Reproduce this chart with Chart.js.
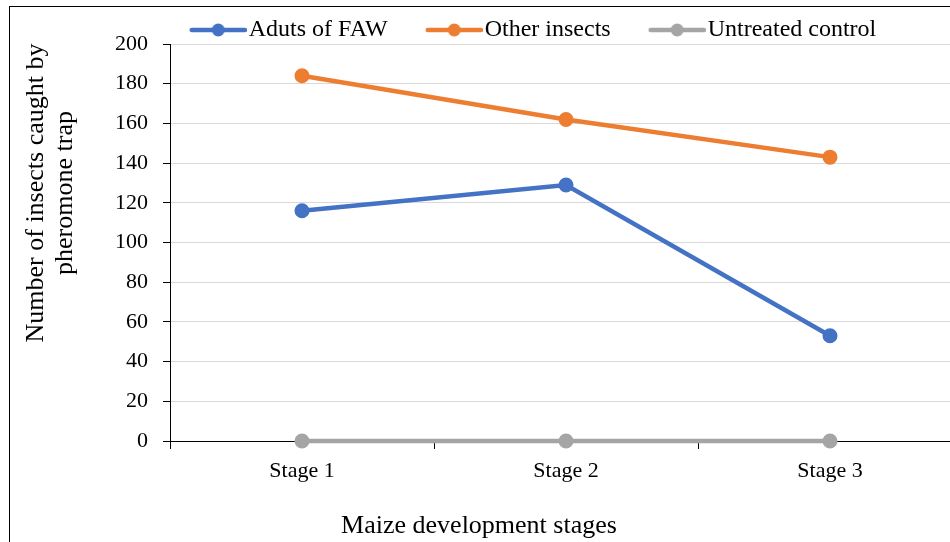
<!DOCTYPE html>
<html>
<head>
<meta charset="utf-8">
<script src="https://cdn.jsdelivr.net/npm/chart.js@4.4.1/dist/chart.umd.min.js"></script>
<style>
  body { margin: 0; width: 950px; height: 542px; overflow: hidden; background: #fff; position: relative; }
  .frame { position: absolute; left: 9px; top: 6px; width: 1000px; height: 600px; border-left: 1px solid #000; border-top: 1px solid #000; }
  #wrap { position: absolute; left: 10px; top: 7px; }
  .x-title { position: absolute; left: 279px; top: 512px; width: 400px; text-align: center; font: 26px/26px "Liberation Serif", serif; color: #000; }
  .y-title { position: absolute; left: -111px; top: 164px; width: 320px; text-align: center; font: 26px/29px "Liberation Serif", serif; color: #000; transform: rotate(-90deg); }
</style>
</head>
<body>
<div class="frame"></div>
<div id="wrap"><canvas id="chart" width="1012" height="535"></canvas></div>
<div class="y-title" id="ytitle"></div>
<div class="x-title">Maize development stages</div>
<script>
const stages = ['Stage 1', 'Stage 2', 'Stage 3'];
const adultsFaw = [116, 129, 53];
const otherInsects = [184, 162, 143];
const untreatedControl = [0, 0, 0];
const seriesNames = ['Aduts of FAW', 'Other insects', 'Untreated control'];
const seriesColors = ['#4472C4', '#ED7D31', '#A5A5A5'];
const yMin = 0, yMax = 200, yStep = 20;
const yTitle = ['Number of insects caught by', 'pheromone trap'];

const serif = 'Liberation Serif';

// y title sits above the plot centre in the reference, so it is laid out as html
const yt = document.getElementById('ytitle');
yTitle.forEach(line => {
    const d = document.createElement('div');
    d.textContent = line;
    yt.appendChild(d);
});

// legend swatch: line with a dot, padded on the left so it sits close to its text
const legendMark = (color) => {
    const c = document.createElement('canvas');
    c.width = 101;
    c.height = 16;
    const g = c.getContext('2d');
    g.strokeStyle = color;
    g.lineWidth = 4.5;
    g.lineCap = 'round';
    g.beginPath();
    g.moveTo(46, 8);
    g.lineTo(99, 8);
    g.stroke();
    g.fillStyle = color;
    g.beginPath();
    g.arc(72.5, 8, 6.5, 0, Math.PI * 2);
    g.fill();
    return c;
};
const marks = seriesColors.map(legendMark);

// legend box is taller than the reference leaves room for
const tightLegend = {
    id: 'tightLegend',
    beforeLayout(chart) {
        const legend = chart.legend;
        if (legend && !legend.tight) {
            const fit = legend.fit.bind(legend);
            legend.fit = () => { fit(); legend.height -= 8; };
            legend.tight = true;
        }
    }
};

const makeSet = (label, data, color) => ({
    label,
    data,
    borderColor: color,
    backgroundColor: color,
    borderWidth: 4.5,
    pointRadius: 6.5,
    pointBorderWidth: 2,
    pointBorderColor: color,
    pointBackgroundColor: color,
    tension: 0,
    clip: false
});

new Chart(document.getElementById('chart'), {
    type: 'line',
    data: {
        labels: stages,
        datasets: [
            makeSet(seriesNames[0], adultsFaw, seriesColors[0]),
            makeSet(seriesNames[1], otherInsects, seriesColors[1]),
            makeSet(seriesNames[2], untreatedControl, seriesColors[2])
        ]
    },
    plugins: [tightLegend],
    options: {
        responsive: false,
        animation: false,
        layout: { padding: { top: 7, left: 0, right: 0, bottom: 0 } },
        plugins: {
            tooltip: { enabled: false },
            legend: {
                position: 'top',
                labels: {
                    usePointStyle: true,
                    pointStyleWidth: 81,
                    padding: 4,
                    color: '#000',
                    font: { family: serif, size: 24 },
                    generateLabels: chart => Chart.defaults.plugins.legend.labels.generateLabels(chart)
                        .map((item, i) => ({ ...item, pointStyle: marks[i] }))
                }
            }
        },
        scales: {
            x: {
                offset: true,
                grid: { display: true, drawOnChartArea: false, offset: true, color: '#000', tickColor: '#000', tickLength: 8 },
                border: { color: '#000', width: 1 },
                ticks: { color: '#000', padding: 9, font: { family: serif, size: 22 } },
                afterFit: s => { s.height = 101; }
            },
            y: {
                min: yMin,
                max: yMax,
                ticks: { stepSize: yStep, color: '#000', padding: 15, font: { family: serif, size: 22 } },
                grid: { color: '#d9d9d9', tickColor: '#000', tickLength: 7 },
                border: { color: '#000', width: 1 },
                afterFit: s => { s.width = 160; }
            },
            yPad: {
                position: 'right',
                display: true,
                grid: { display: false },
                border: { display: false },
                ticks: { display: false },
                afterFit: s => { s.width = 60; }
            }
        }
    }
});
</script>
</body>
</html>
